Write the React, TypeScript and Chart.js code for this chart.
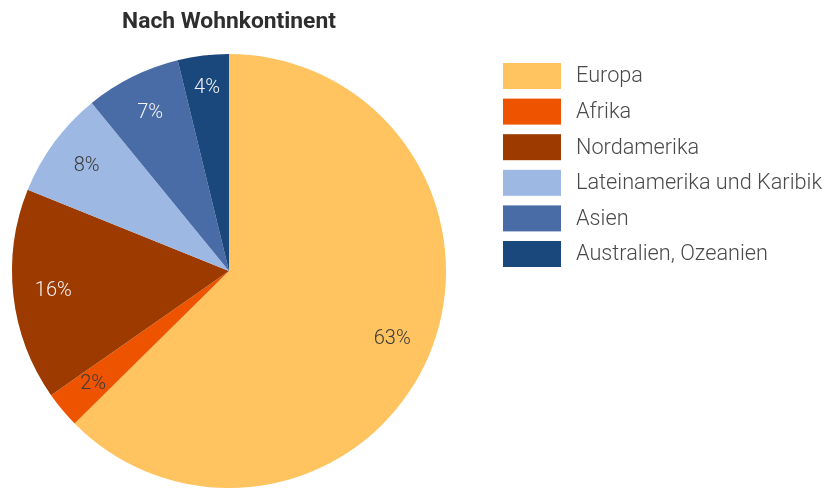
import React, { useEffect, useRef } from "react";
import { Chart, registerables } from "chart.js";

Chart.register(...registerables);

const categories = [
  "Europa",
  "Afrika",
  "Nordamerika",
  "Lateinamerika und Karibik",
  "Asien",
  "Australien, Ozeanien",
];
const values = [62.6, 2.7, 15.8, 8.0, 7.1, 3.8];
const pctLabels = ["63%", "2%", "16%", "8%", "7%", "4%"];
const colors = ["#FFC35F", "#EE5400", "#9C3A00", "#9CB8E3", "#496BA6", "#1A487C"];
const labelColors = ["#3a3a3a", "#3a3a3a", "#f4f4f4", "#3a3a3a", "#f4f4f4", "#f4f4f4"];
const titleText = "Nach Wohnkontinent";

const sliceLabels = {
  id: "sliceLabels",
  afterDatasetsDraw(chart: any) {
    const ctx = chart.ctx;
    const meta = chart.getDatasetMeta(0);
    ctx.save();
    ctx.font = "300 20px Roboto";
    ctx.textAlign = "center";
    ctx.textBaseline = "middle";
    meta.data.forEach((arc: any, i: number) => {
      const { x, y, startAngle, endAngle, outerRadius } = arc.getProps(
        ["x", "y", "startAngle", "endAngle", "outerRadius"],
        true
      );
      const mid = (startAngle + endAngle) / 2;
      const r = outerRadius * (i === 5 ? 0.85 : 0.815);
      ctx.fillStyle = labelColors[i];
      ctx.fillText(pctLabels[i], x + Math.cos(mid) * r, y + Math.sin(mid) * r);
    });
    ctx.restore();
  },
};

const sideLegend = {
  id: "sideLegend",
  afterDraw(chart: any) {
    const ctx = chart.ctx;
    ctx.save();
    ctx.font = "300 21.7px Roboto";
    ctx.textAlign = "left";
    ctx.textBaseline = "middle";
    const x0 = 503;
    const y0 = 63;
    const pitch = 35.6;
    const bw = 58;
    const bh = 26;
    categories.forEach((c, i) => {
      const y = y0 + i * pitch;
      ctx.fillStyle = colors[i];
      ctx.fillRect(x0, y, bw, bh);
      ctx.fillStyle = "#4a4a4a";
      ctx.fillText(c, 576, y + bh / 2 + 1);
    });
    ctx.restore();
  },
};

export default function App() {
  const ref = useRef<HTMLCanvasElement>(null);
  useEffect(() => {
    document.body.style.margin = "0";
    const chart = new Chart(ref.current!, {
      type: "pie",
      data: {
        labels: categories,
        datasets: [
          {
            data: values,
            backgroundColor: colors,
            borderWidth: 0,
          },
        ],
      },
      options: {
        animation: false,
        responsive: false,
        devicePixelRatio: 1,
        layout: { padding: { left: 12, right: 379, top: 0, bottom: 1 } },
        plugins: {
          legend: { display: false },
          tooltip: { enabled: false },
          title: {
            display: true,
            text: titleText,
            fullSize: false,
            color: "#2e2e2e",
            font: { family: "Roboto", size: 22.8, weight: "bold" },
            padding: { top: 9, bottom: 17.6 },
          },
        },
      },
      plugins: [sliceLabels, sideLegend],
    });
    return () => chart.destroy();
  }, []);
  return (
    <div style={{ width: 825, height: 489, background: "#fff" }}>
      <canvas ref={ref} width={825} height={489} />
    </div>
  );
}
